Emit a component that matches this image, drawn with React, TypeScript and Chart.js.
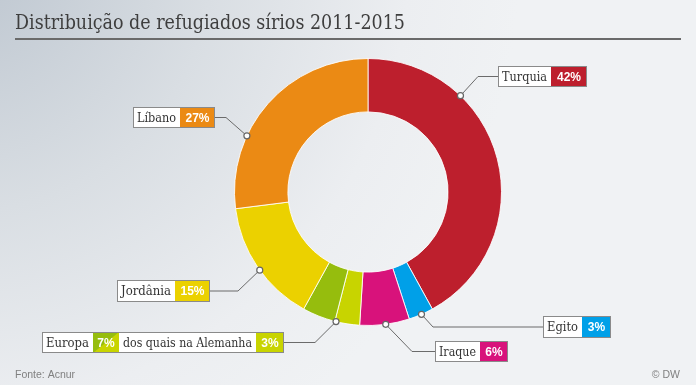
import React, { useEffect, useRef } from "react";
import { Chart, registerables } from "chart.js";

Chart.register(...registerables);

// ---- data ----
const categories = ["Turquia", "Egito", "Iraque", "Alemanha", "Europa (outros)", "Jordânia", "Líbano"];
const shares = [42, 3, 6, 3, 4, 15, 27];
const colors = ["#bd1f2d", "#00a0e8", "#d8127b", "#c8d400", "#96bd0d", "#ebd100", "#eb8a14"];

const titleText = "Distribuição de refugiados sírios 2011-2015";
const sourceText = "Fonte: Acnur";
const creditText = "© DW";
const europeLabel = "Europa";
const germanyNote = "dos quais na Alemanha";

const pct = (v: number) => `${v}%`;

// ---- callout layout (positions only) ----
type Part = { text: string; w: number; fill?: string; fill2?: string; bold?: boolean };
type Callout = { slice: number; frac: number; x: number; y: number; h: number; elbowX: number; parts: Part[] };

const callouts: Callout[] = [
  { slice: 0, frac: 0.29, x: 498, y: 66, h: 21, elbowX: 478,
    parts: [{ text: categories[0], w: 53 }, { text: pct(shares[0]), w: 36, fill: colors[0], bold: true }] },
  { slice: 6, frac: 0.33, x: 133, y: 107, h: 21, elbowX: 226,
    parts: [{ text: categories[6], w: 47 }, { text: pct(shares[6]), w: 35, fill: colors[6], bold: true }] },
  { slice: 5, frac: 0.47, x: 117, y: 280, h: 22, elbowX: 238,
    parts: [{ text: categories[5], w: 58 }, { text: pct(shares[5]), w: 35, fill: colors[5], bold: true }] },
  { slice: 3, frac: 0.95, x: 42, y: 332, h: 21, elbowX: 315,
    parts: [
      { text: europeLabel, w: 51 },
      { text: pct(shares[3] + shares[4]), w: 26, fill: colors[4], fill2: colors[3], bold: true },
      { text: germanyNote, w: 137 },
      { text: pct(shares[3]), w: 28, fill: colors[3], bold: true },
    ] },
  { slice: 1, frac: 0.48, x: 543, y: 316, h: 22, elbowX: 433,
    parts: [{ text: categories[1], w: 39 }, { text: pct(shares[1]), w: 29, fill: colors[1], bold: true }] },
  { slice: 2, frac: 0.48, x: 435, y: 341, h: 21, elbowX: 412,
    parts: [{ text: categories[2], w: 45 }, { text: pct(shares[2]), w: 28, fill: colors[2], bold: true }] },
];

const SERIF = '"DejaVu Serif", "Liberation Serif", serif';
const SANS = '"Liberation Sans", Arial, sans-serif';

function fitText(ctx: CanvasRenderingContext2D, text: string, x: number, y: number, maxW: number, align: "left" | "center") {
  const w = ctx.measureText(text).width;
  const s = w > maxW ? maxW / w : 1;
  ctx.save();
  ctx.translate(x, y);
  ctx.scale(s, 1);
  ctx.textAlign = align;
  ctx.fillText(text, 0, 0);
  ctx.restore();
}

const decorPlugin = {
  id: "decor",
  beforeDraw(chart: any) {
    const ctx: CanvasRenderingContext2D = chart.ctx;
    const W = chart.width, H = chart.height;
    ctx.save();
    const g = ctx.createRadialGradient(-40, -40, 0, -40, -40, 560);
    g.addColorStop(0, "#bcc5cf");
    g.addColorStop(0.45, "#d9dee3");
    g.addColorStop(0.8, "#eceef1");
    g.addColorStop(1, "#f0f2f4");
    ctx.fillStyle = g;
    ctx.fillRect(0, 0, W, H);

    // title
    ctx.fillStyle = "#3e3e3e";
    ctx.font = `20px ${SERIF}`;
    ctx.textBaseline = "alphabetic";
    fitText(ctx, titleText, 15, 29, 390, "left");
    ctx.fillStyle = "#6a6a6a";
    ctx.fillRect(15, 38, 666, 2);

    // footer
    ctx.fillStyle = "#808080";
    ctx.font = `10.5px ${SANS}`;
    ctx.textAlign = "left";
    ctx.fillText(sourceText, 15, 378);
    ctx.textAlign = "right";
    ctx.fillText(creditText, 680, 378);
    ctx.restore();
  },
  afterDraw(chart: any) {
    const ctx: CanvasRenderingContext2D = chart.ctx;
    const meta = chart.getDatasetMeta(0);
    ctx.save();
    for (const c of callouts) {
      const arc: any = meta.data[c.slice];
      const a = arc.startAngle + c.frac * (arc.endAngle - arc.startAngle);
      const R = arc.outerRadius;
      const dx = arc.x + R * Math.cos(a);
      const dy = arc.y + R * Math.sin(a);
      const totalW = c.parts.reduce((s, p) => s + p.w, 0);
      const cy = c.y + c.h / 2;
      const boxEdge = c.elbowX < c.x ? c.x : c.x + totalW;
      // leader
      ctx.strokeStyle = "#6b6b6b";
      ctx.lineWidth = 1;
      ctx.beginPath();
      ctx.moveTo(dx, dy);
      ctx.lineTo(c.elbowX, cy);
      ctx.lineTo(boxEdge, cy);
      ctx.stroke();
      // box
      let x = c.x;
      for (const p of c.parts) {
        if (p.fill2) {
          ctx.fillStyle = p.fill2;
          ctx.fillRect(x, c.y, p.w, c.h);
          ctx.fillStyle = p.fill!;
          ctx.beginPath();
          ctx.moveTo(x, c.y);
          ctx.lineTo(x + p.w, c.y);
          ctx.lineTo(x, c.y + c.h);
          ctx.closePath();
          ctx.fill();
        } else {
          ctx.fillStyle = p.fill || "#ffffff";
          ctx.fillRect(x, c.y, p.w, c.h);
        }
        ctx.textBaseline = "middle";
        if (p.bold) {
          ctx.fillStyle = "#ffffff";
          ctx.font = `bold 12px ${SANS}`;
        } else {
          ctx.fillStyle = "#333333";
          ctx.font = `12px ${SERIF}`;
        }
        fitText(ctx, p.text, x + p.w / 2, cy + 1, p.w - 8, "center");
        x += p.w;
      }
      ctx.strokeStyle = "#8a8a8a";
      ctx.strokeRect(c.x + 0.5, c.y + 0.5, totalW - 1, c.h - 1);
      // dot
      ctx.beginPath();
      ctx.arc(dx, dy, 3, 0, Math.PI * 2);
      ctx.fillStyle = "#ffffff";
      ctx.fill();
      ctx.strokeStyle = "#666666";
      ctx.lineWidth = 1.2;
      ctx.stroke();
    }
    ctx.restore();
  },
};

export default function App() {
  const ref = useRef<HTMLCanvasElement>(null);
  useEffect(() => {
    if (!ref.current) return;
    const chart = new Chart(ref.current, {
      type: "doughnut",
      data: {
        labels: categories,
        datasets: [
          {
            data: shares,
            backgroundColor: colors,
            borderColor: "rgba(255,255,255,0.85)",
            borderWidth: 1,
          },
        ],
      },
      options: {
        responsive: false,
        animation: false,
        cutout: "60%",
        layout: { padding: { left: 234, right: 194, top: 58, bottom: 59 } },
        plugins: { legend: { display: false }, tooltip: { enabled: false } },
      },
      plugins: [decorPlugin],
    });
    return () => chart.destroy();
  }, []);
  return (
    <div style={{ position: "absolute", left: 0, top: 0, width: 696, height: 385 }}>
      <canvas ref={ref} width={696} height={385} style={{ display: "block" }} />
    </div>
  );
}
